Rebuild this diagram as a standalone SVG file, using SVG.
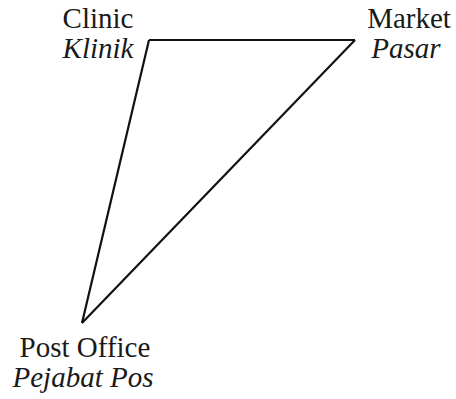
<svg xmlns="http://www.w3.org/2000/svg" width="456" height="399" viewBox="0 0 456 399">
<style>
.lbl{font-size:29px;fill:#1a1a1a}
.it{font-style:italic}
.edge{fill:none;stroke:#111;stroke-width:2.2;stroke-linejoin:miter}
</style>
<rect width="456" height="399" fill="#fff"/>
<g id="connectors">
<path class="edge" d="M149 40 L355 40"/>
<path class="edge" d="M355 40 L82 323"/>
<path class="edge" d="M149 40 L82 323"/>
</g>
<g font-family="'Liberation Serif', 'Times New Roman', Times, serif">
<g id="clinic"><text class="lbl" x="98" y="28" text-anchor="middle">Clinic</text><text class="lbl it" x="98" y="58" text-anchor="middle">Klinik</text></g>
<g id="market"><text class="lbl" x="409" y="28" text-anchor="middle">Market</text><text class="lbl it" x="406" y="58" text-anchor="middle">Pasar</text></g>
<g id="post-office"><text class="lbl" x="85" y="357" text-anchor="middle">Post Office</text><text class="lbl it" x="83" y="387" text-anchor="middle">Pejabat Pos</text></g>
</g>
</svg>
